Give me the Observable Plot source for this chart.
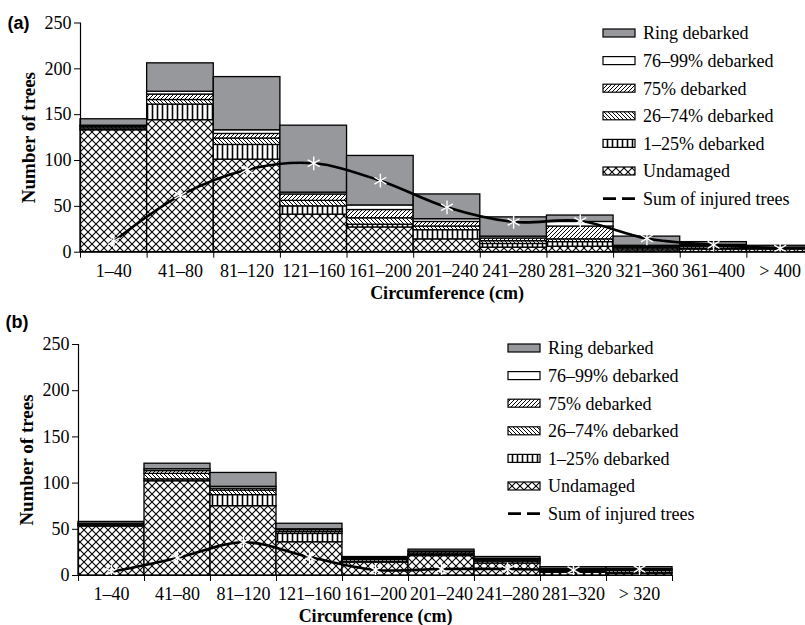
<!DOCTYPE html>
<html><head><meta charset="utf-8">
<script src="https://cdn.jsdelivr.net/npm/d3@7"></script>
<script src="https://cdn.jsdelivr.net/npm/@observablehq/plot@0.6"></script>
<style>
body{margin:0;background:#fff;width:805px;height:625px;overflow:hidden;position:relative;font-family:"Liberation Serif",serif}
.panel{position:absolute;left:0}
</style></head><body>
<svg width="0" height="0" style="position:absolute">
<defs>
<pattern id="pUnd" patternUnits="userSpaceOnUse" width="8" height="8">
<rect width="8" height="8" fill="#fff"/><path d="M0,0L8,8M8,0L0,8" stroke="#000" stroke-width="1.1"/>
</pattern>
<pattern id="p125" patternUnits="userSpaceOnUse" width="5" height="10">
<rect width="5" height="10" fill="#fff"/><path d="M2.5,0V10" stroke="#000" stroke-width="1.6"/>
</pattern>
<pattern id="p2674" patternUnits="userSpaceOnUse" width="4" height="4">
<rect width="4" height="4" fill="#fff"/><path d="M0,0L4,4M-1,3L1,5M3,-1L5,1" stroke="#000" stroke-width="1"/>
</pattern>
<pattern id="p75" patternUnits="userSpaceOnUse" width="4" height="4">
<rect width="4" height="4" fill="#fff"/><path d="M0,4L4,0M-1,1L1,-1M3,5L5,3" stroke="#000" stroke-width="1"/>
</pattern>
</defs>
</svg>
<div id="a" class="panel" style="top:0"></div>
<div id="b" class="panel" style="top:310px"></div>
<script>
// ---- data ----
const layers = ["Undamaged","1–25% debarked","26–74% debarked","75% debarked","76–99% debarked","Ring debarked"];
const yTicks = [0,50,100,150,200,250];

const catsA = ["1–40","41–80","81–120","121–160","161–200","201–240","241–280","281–320","321–360","361–400","> 400"];
const undamagedA = [133,144,101,41,27,14,5,6,2,3,3];
const d1_25A     = [1,17,16,9,3,10,4,5,2,1,0];
const d26_74A    = [2,5,7,6,7,4,3,3,1,2,1];
const d75A       = [1,6,5,7,9,5,3,14,1,1,1];
const d76_99A    = [1,3,4,2,5,3,2,5,1,1,0];
const ringA      = [7,31,58,73,54,27,21,7,10,3,2];
const sumInjuredA = [12,62,90,97,78,49,33,34,15,8,4];

const catsB = ["1–40","41–80","81–120","121–160","161–200","201–240","241–280","281–320","> 320"];
const undamagedB = [53,102,75,36,14,21,13,3,2];
const d1_25B     = [1,2,12,9,1,1,2,1,1];
const d26_74B    = [1,6,5,2,2,1,1,1,2];
const d75B       = [1,3,2,2,1,2,1,1,1];
const d76_99B    = [0,2,2,1,1,1,1,1,1];
const ringB      = [2,6,15,6,1,2,2,2,2];
const sumInjuredB = [4,19,36,20,6,7,7,6,7];

// ---- styles ----
const fills = ["url(#pUnd)","url(#p125)","url(#p2674)","url(#p75)","#ffffff","#97989b"];
const serif = "Liberation Serif";

function panel(el, cfg) {
  const {cats, series, sum, tag, tagDy, height, left, right, y0, y250, legendX, legendY} = cfg;
  const n = cats.length;
  const rows = [];
  cats.forEach((c, i) => layers.forEach((l, k) => rows.push({i, cat: c, layer: l, value: series[k][i]})));
  const pts = sum.map((v, i) => ({x: i + 0.5, y: v}));
  const chart = Plot.plot({
    width: 805, height,
    marginLeft: left, marginRight: 0, marginTop: y250, marginBottom: height - y0,
    style: {fontFamily: serif, fontSize: "18px", color: "black", background: "transparent", overflow: "visible"},
    x: {domain: [0, n], range: [left, right], ticks: d3.range(n + 1), tickFormat: () => "", tickSize: 6, label: null},
    y: {domain: [0, 250], range: [y0, y250], ticks: yTicks, tickSize: 6, tickPadding: 3, label: null},
    color: {domain: layers, range: fills},
    marks: [
      Plot.rectY(rows, {x1: d => d.i, x2: d => d.i + 1, x: d => d.i + 0.5, y: "value", fill: "layer", stroke: "black", strokeWidth: 1.3}),
      Plot.line(pts, {x: "x", y: "y", curve: "catmull-rom", stroke: "black", strokeWidth: 2.6}),
      Plot.dot(pts, {x: "x", y: "y", symbol: "asterisk", r: 6.5, stroke: "white", strokeWidth: 1.4}),
      Plot.ruleY([0], {x1: 0, x2: n, stroke: "black", strokeWidth: 1.2}),
      Plot.ruleX([0], {y1: 0, y2: 250, stroke: "black", strokeWidth: 1.2}),
      Plot.text(cats, {x: (d, i) => i + 0.5, y: () => 0, text: d => d, dy: 19, fontSize: 18}),
      Plot.text(["Circumference (cm)"], {x: () => n / 2, y: () => 0, text: d => d, dy: 41, fontWeight: "bold", fontSize: 18}),
      Plot.text(["Number of trees"], {frameAnchor: "left", text: d => d, dx: -52, rotate: -90, textAnchor: "middle", lineAnchor: "middle", fontWeight: "bold", fontSize: 19}),
      Plot.text([tag], {frameAnchor: "top-left", text: d => d, dx: -73, dy: tagDy, textAnchor: "start", lineAnchor: "middle", fontWeight: "bold", fontSize: 18, fontFamily: "Liberation Sans"})
    ]
  });
  // legend
  const svg = d3.select(chart);
  const g = svg.append("g").attr("font-family", serif).attr("font-size", 18).attr("text-anchor", "start");
  const order = layers.slice().reverse();
  const step = 27.6;
  order.forEach((l, k) => {
    const yy = legendY + k * step;
    g.append("rect").attr("x", legendX).attr("y", yy - 4).attr("width", 32).attr("height", 8)
      .attr("fill", fills[layers.indexOf(l)]).attr("stroke", "black").attr("stroke-width", 1.2);
    g.append("text").attr("x", legendX + 40).attr("y", yy).attr("dy", "0.35em").text(l);
  });
  const ys = legendY + 6 * step;
  g.append("line").attr("x1", legendX).attr("x2", legendX + 32).attr("y1", ys).attr("y2", ys)
    .attr("stroke", "black").attr("stroke-width", 2.6).attr("stroke-dasharray", "13,6");
  g.append("text").attr("x", legendX + 40).attr("y", ys).attr("dy", "0.35em").text("Sum of injured trees");
  document.getElementById(el).appendChild(chart);
}

panel("a", {
  cats: catsA, series: [undamagedA, d1_25A, d26_74A, d75A, d76_99A, ringA], sum: sumInjuredA, tag: "(a)", tagDy: 0,
  height: 310, left: 80, right: 813, y0: 251.7, y250: 22.5, legendX: 603, legendY: 33
});
panel("b", {
  cats: catsB, series: [undamagedB, d1_25B, d26_74B, d75B, d76_99B, ringB], sum: sumInjuredB, tag: "(b)", tagDy: -22,
  height: 315, left: 78, right: 672, y0: 265, y250: 34, legendX: 508, legendY: 38
});
</script>
</body></html>
